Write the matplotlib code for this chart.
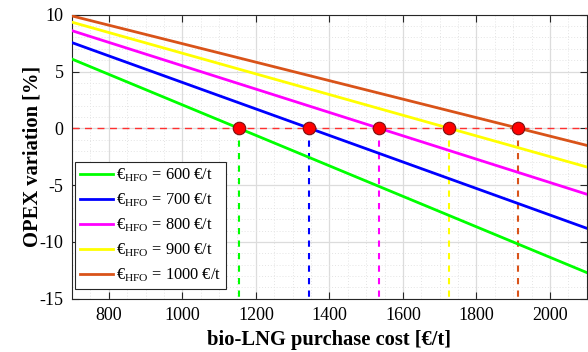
import matplotlib
matplotlib.use("Agg")
import matplotlib.pyplot as plt
import numpy as np
from matplotlib.ticker import MultipleLocator

plt.rcParams['font.family'] = ['Liberation Serif', 'DejaVu Serif']
plt.rcParams['mathtext.fontset'] = 'custom'
plt.rcParams['mathtext.rm'] = 'Liberation Serif'
plt.rcParams['axes.unicode_minus'] = False

# Data
x_range = [700, 2100]
hfo_prices = [600, 700, 800, 900, 1000]
opex_at_700 = [6.1, 7.55, 8.6, 9.35, 9.9]
opex_at_2100 = [-12.7, -8.8, -5.8, -3.4, -1.5]
breakeven = [1155, 1344, 1534, 1724, 1914]
colors = ['#00FF00', '#0000FF', '#FF00FF', '#FFFF00', '#D95319']

fig = plt.figure(figsize=(5.88, 3.52), dpi=100)
ax = fig.add_axes([0.1224, 0.1514, 0.8756, 0.8066])

lines = []
for p, y0, y1, c in zip(hfo_prices, opex_at_700, opex_at_2100, colors):
    l, = ax.plot(x_range, [y0, y1], color=c, lw=2,
                 label=r'€$_{\mathrm{HFO}}$ = %d €/t' % p, zorder=3)
    lines.append(l)

ax.axhline(0, color='#FF3030', ls=(0, (5, 4)), lw=1, zorder=2)
for b, c in zip(breakeven, colors):
    ax.plot([b, b], [0, -15], color=c, ls=(0, (3, 3)), lw=1.5, zorder=2)
ax.plot(breakeven, [0]*len(breakeven), 'o', ms=9, mfc='#FF0000',
        mec='#7a1010', mew=0.8, zorder=5)

ax.set_xlim(700, 2100)
ax.set_ylim(-15, 10)
ax.xaxis.set_major_locator(MultipleLocator(200))
ax.xaxis.set_minor_locator(MultipleLocator(50))
ax.yaxis.set_major_locator(MultipleLocator(5))
ax.yaxis.set_minor_locator(MultipleLocator(1))
ax.grid(which='major', color='#dcdcdc', lw=0.9, zorder=0)
ax.grid(which='minor', color='#e4e4e4', lw=0.7, ls=(0, (1, 2)), zorder=0)
ax.set_axisbelow(True)
ax.tick_params(which='major', direction='in', top=True, right=True,
               length=5, width=0.8, labelsize=13, color='#262626', pad=6)
ax.tick_params(which='minor', length=0)
for s in ax.spines.values():
    s.set_color('#262626')
    s.set_linewidth(0.8)

ax.set_xlabel('bio-LNG purchase cost [€/t]', fontsize=14.8, fontweight='bold', labelpad=4)
ax.set_ylabel('OPEX variation [%]', fontsize=14.8, fontweight='bold')
ax.yaxis.set_label_coords(-0.058, 0.5)

leg = ax.legend(handles=lines, loc='lower left', fontsize=11.8,
                bbox_to_anchor=(0.006, 0.033),
                handlelength=2.0, handletextpad=0.2, labelspacing=0.45,
                borderaxespad=0.0, borderpad=0.3, fancybox=False,
                framealpha=1, edgecolor='#262626')
leg.get_frame().set_linewidth(0.8)

fig.savefig('out.png', dpi=100)
